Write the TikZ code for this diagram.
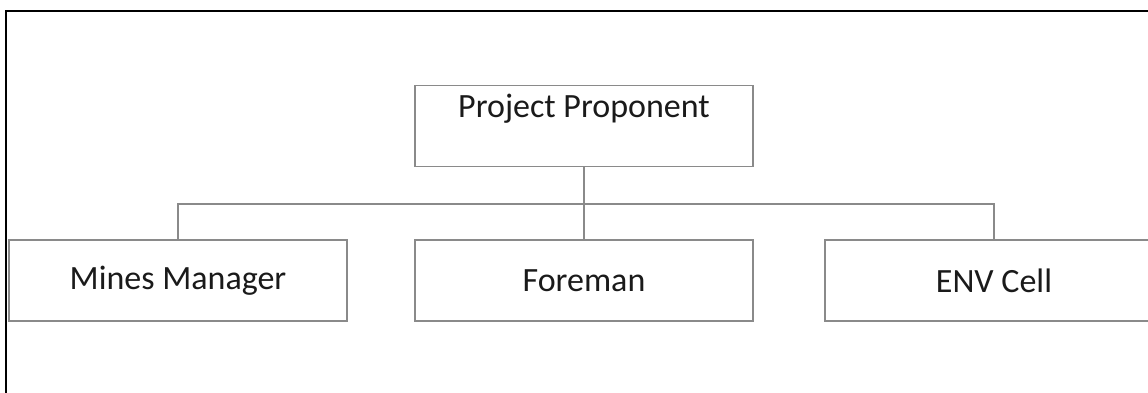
\documentclass[tikz,border=0pt]{standalone}
\usepackage{fontspec}
\setmainfont{Carlito}
\definecolor{boxgray}{HTML}{8A8A8A}
\definecolor{txt}{HTML}{1A1A1A}
\begin{document}
\begin{tikzpicture}[x=0.5pt,y=-0.5pt,
  orgbox/.style={draw=boxgray,line width=0.8pt,minimum width=169pt,minimum height=40.5pt,inner sep=0pt,
    font=\fontsize{17}{20}\selectfont,text=txt},
  lbl/.style={font=\fontsize{17}{20}\selectfont,text=txt,inner sep=0pt,anchor=base},
  conn/.style={draw=boxgray,line width=0.8pt}]
\useasboundingbox (0,0) rectangle (1148,392);
\draw[line width=1.3pt,black] (6,400) -- (6,11) -- (1160,11);
\node[orgbox] (pp) at (584,126) {};
\node[lbl] (ppt) at (584,117) {Project Proponent};
\node[orgbox] (mm) at (178,280.5) {Mines Manager};
\node[orgbox] (fm) at (584,280.5) {Foreman};
\node[orgbox] (env) at (994,280.5) {ENV Cell};
\coordinate (hub) at (584,204);
\draw[conn] (pp.south) -- (fm.north);
\draw[conn] (mm.north) |- (hub) -| (env.north);
\end{tikzpicture}
\end{document}
